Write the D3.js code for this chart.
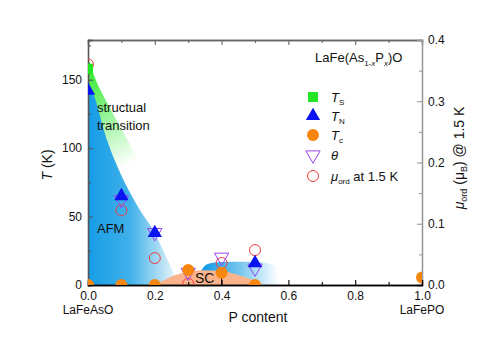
<!DOCTYPE html>
<html>
<head>
<meta charset="utf-8">
<script src="https://cdn.jsdelivr.net/npm/d3@7"></script>
<style>
  body { margin: 0; background: #fff; }
  svg text { font-family: "Liberation Sans", Arial, sans-serif; }
</style>
</head>
<body>
<div id="chart"></div>
<script>
// P content of each sample
var pContent = [0, 0.1, 0.2, 0.3, 0.4, 0.5, 1.0];

// transition temperatures (K)
var tsData = [[0, 158]];
var tnData = [[0, 142], [0.1, 65], [0.2, 38], [0.5, 16]];
var tcData = [[0, 0], [0.1, 0], [0.2, 0], [0.3, 11], [0.4, 9], [0.5, 0], [1.0, 5.5]];
var tcErr = [[0.4, 0, 9]];
var thetaData = [[0.1, 63], [0.2, 39], [0.3, 10], [0.4, 21], [0.5, 13]];
// ordered moment (mu_B) at 1.5 K -> right axis
var muData = [[0, 0.36], [0.1, 0.122], [0.2, 0.044], [0.3, 0.002], [0.4, 0.036], [0.5, 0.057]];

// phase boundaries
var structBoundary = [[0, 166], [0.02, 152], [0.06, 132], [0.1, 114], [0.14, 96], [0.19, 72], [0.24, 40], [0.28, 0]];
var afmBoundary = [[0, 146], [0.02, 137], [0.05, 111], [0.1, 80], [0.15, 57], [0.2, 38], [0.235, 20], [0.26, 7], [0.272, 0]];
var afm2Boundary = [[0.33, 6], [0.345, 14], [0.37, 16.8], [0.45, 17], [0.58, 17], [0.58, 0]];
var scBoundary = [[0.2, 0], [0.24, 5], [0.29, 9.3], [0.34, 10.8], [0.4, 10.2], [0.46, 6.5], [0.5, 3], [0.525, 0]];

var xTicks = [0, 0.2, 0.4, 0.6, 0.8, 1.0];
var xMinor = [0.1, 0.3, 0.5, 0.7, 0.9];
var yTicks = [0, 50, 100, 150];
var yMinor = [25, 75, 125, 175];
var yRTicks = [0, 0.1, 0.2, 0.3, 0.4];
var yRMinor = [0.05, 0.15, 0.25, 0.35];

var W = 491, H = 342;
var pL = 88, pR = 422, pT = 40, pB = 285;

var svg = d3.select("#chart").append("svg")
  .attr("width", W)
  .attr("height", H);

var x = d3.scaleLinear().domain([0, 1]).range([pL, pR]);
var y = d3.scaleLinear().domain([0, 179]).range([pB, pT]);
var yR = d3.scaleLinear().domain([0, 0.4]).range([pB, pT]);

var defs = svg.append("defs");
defs.append("clipPath").attr("id", "plot")
  .append("rect").attr("x", pL).attr("y", pT)
  .attr("width", pR - pL).attr("height", pB - pT);

function grad(id, x1, y1, x2, y2, stops) {
  var g = defs.append("linearGradient").attr("id", id)
    .attr("gradientUnits", "userSpaceOnUse")
    .attr("x1", x1).attr("y1", y1).attr("x2", x2).attr("y2", y2);
  stops.forEach(function(s) {
    g.append("stop").attr("offset", s[0]).attr("stop-color", s[1]);
  });
}
grad("gStruct", x(0), y(165), x(0.14), y(90), [[0, "#1fe61f"], [0.4, "#7af27a"], [1, "#ffffff"]]);
grad("gAfm", x(0), 0, x(0.28), 0, [[0, "#159ce6"], [0.45, "#40b1ea"], [0.8, "#b8e1f5"], [1, "#ffffff"]]);
grad("gAfm2", x(0.35), 0, x(0.57), 0, [[0, "#159ce6"], [0.5, "#7cc9ef"], [1, "#ffffff"]]);

var area = d3.line()
  .x(function(d) { return x(d[0]); })
  .y(function(d) { return y(d[1]); })
  .curve(d3.curveMonotoneX);

var regions = svg.append("g").attr("clip-path", "url(#plot)");

regions.append("path")
  .attr("d", area(structBoundary) + "L" + x(0) + "," + y(0) + "Z")
  .attr("fill", "url(#gStruct)");
regions.append("path")
  .attr("d", area(afmBoundary) + "L" + x(0) + "," + y(0) + "Z")
  .attr("fill", "url(#gAfm)");
regions.append("path")
  .attr("d", d3.line().x(function(d) { return x(d[0]); }).y(function(d) { return y(d[1]); })
    .curve(d3.curveBasis)(afm2Boundary) + "L" + x(0.33) + "," + y(0) + "Z")
  .attr("fill", "url(#gAfm2)");
regions.append("path")
  .attr("d", area(scBoundary) + "Z")
  .attr("fill", "#fab38a");

// axes
function axis(gen, tr, values, size, fmt, color) {
  var g = svg.append("g")
    .attr("transform", tr)
    .call(gen.tickValues(values).tickSize(size).tickPadding(4).tickFormat(fmt));
  g.select(".domain").attr("stroke", color).attr("stroke-width", 1.3);
  g.selectAll(".tick line").attr("stroke", color).attr("stroke-width", 1.1);
  g.selectAll("text").attr("font-size", 12).attr("fill", "#111");
  return g;
}
var none = function() { return ""; };
axis(d3.axisTop(x), "translate(0," + pT + ")", xTicks, -5, none, "#666");
axis(d3.axisTop(x), "translate(0," + pT + ")", xMinor, -3, none, "#666");
axis(d3.axisRight(yR), "translate(" + pR + ",0)", yRMinor, -3, none, "#999");
axis(d3.axisRight(yR), "translate(" + pR + ",0)", yRTicks, -5, d3.format(".1f"), "#999")
  .selectAll("text").attr("x", 6);
axis(d3.axisLeft(y), "translate(" + pL + ",0)", yMinor, -3, none, "#555");
axis(d3.axisLeft(y), "translate(" + pL + ",0)", yTicks, -5, d3.format("d"), "#555")
  .selectAll("text").attr("x", -6);
axis(d3.axisBottom(x), "translate(0," + pB + ")", xMinor, -3, none, "#000");
axis(d3.axisBottom(x), "translate(0," + pB + ")", xTicks, -5, d3.format(".1f"), "#000")
  .selectAll("text").attr("y", 6);

// data points
var pts = svg.append("g").attr("clip-path", "url(#plot)");
var tri = d3.symbol().type(d3.symbolTriangle).size(88);

pts.selectAll(".mu").data(muData).enter().append("circle")
  .attr("cx", function(d) { return x(d[0]); })
  .attr("cy", function(d) { return yR(d[1]); })
  .attr("r", 5.5)
  .attr("fill", "none").attr("stroke", "#f03c3c").attr("stroke-width", 1);

pts.selectAll(".theta").data(thetaData).enter().append("path")
  .attr("d", tri)
  .attr("transform", function(d) { return "translate(" + x(d[0]) + "," + (y(d[1]) + 1) + ") rotate(180)"; })
  .attr("fill", "none").attr("stroke", "#9b42f5").attr("stroke-width", 1);

pts.selectAll(".tn").data(tnData).enter().append("path")
  .attr("d", tri)
  .attr("transform", function(d) { return "translate(" + x(d[0]) + "," + y(d[1]) + ")"; })
  .attr("fill", "#0a14f0");

pts.selectAll(".err").data(tcErr).enter().append("line")
  .attr("x1", function(d) { return x(d[0]); })
  .attr("x2", function(d) { return x(d[0]); })
  .attr("y1", function(d) { return y(d[1]); })
  .attr("y2", function(d) { return y(d[2]); })
  .attr("stroke", "#000");

pts.selectAll(".tc").data(tcData).enter().append("circle")
  .attr("cx", function(d) { return x(d[0]); })
  .attr("cy", function(d) { return y(d[1]); })
  .attr("r", 6)
  .attr("fill", "#f7860f");

pts.selectAll(".ts").data(tsData).enter().append("rect")
  .attr("x", function(d) { return x(d[0]) - 5; })
  .attr("y", function(d) { return y(d[1]) - 5; })
  .attr("width", 10).attr("height", 10)
  .attr("fill", "#22e622");

// region labels
function label(tx, ty, txt, size) {
  return svg.append("text").attr("x", tx).attr("y", ty)
    .attr("font-size", size || 13).attr("fill", "#111").text(txt);
}
label(97, 112, "structual");
label(97, 130, "transition");
label(97, 233, "AFM");
label(195, 283, "SC", 14);

// compound name
var title = svg.append("text").attr("x", 315).attr("y", 62)
  .attr("font-size", 13).attr("fill", "#111");
title.append("tspan").text("LaFe(As");
title.append("tspan").attr("font-size", 8).attr("dy", 4).text("1-");
title.append("tspan").attr("font-size", 8).attr("font-style", "italic").text("x");
title.append("tspan").attr("dy", -4).text("P");
title.append("tspan").attr("font-size", 8).attr("font-style", "italic").attr("dy", 4).text("x");
title.append("tspan").attr("dy", -4).text(")O");

// legend
var lg = svg.append("g");
var lx = 313, tx = 331;
var rows = [97, 116, 135, 155, 176];
lg.append("rect").attr("x", lx - 5).attr("y", rows[0] - 5).attr("width", 10).attr("height", 10).attr("fill", "#22e622");
lg.append("path").attr("d", tri).attr("transform", "translate(" + lx + "," + rows[1] + ")").attr("fill", "#0a14f0");
lg.append("circle").attr("cx", lx).attr("cy", rows[2]).attr("r", 6).attr("fill", "#f7860f");
lg.append("path").attr("d", tri).attr("transform", "translate(" + lx + "," + rows[3] + ") rotate(180)")
  .attr("fill", "none").attr("stroke", "#9b42f5");
lg.append("circle").attr("cx", lx).attr("cy", rows[4]).attr("r", 5.5)
  .attr("fill", "none").attr("stroke", "#f03c3c");

var legTexts = [["T", "S", ""], ["T", "N", ""], ["T", "c", ""], ["\u03b8", "", ""], ["\u03bc", "ord", " at 1.5 K"]];
legTexts.forEach(function(t, i) {
  var el = lg.append("text").attr("x", tx).attr("y", rows[i] + 5).attr("font-size", 13).attr("fill", "#111");
  el.append("tspan").attr("font-style", "italic").text(t[0]);
  if (t[1]) el.append("tspan").attr("font-size", 8).attr("dy", 3).text(t[1]);
  if (t[2]) el.append("tspan").attr("dy", -3).text(t[2]);
});

// axis titles
svg.append("text").attr("x", (pL + pR) / 2 + 3).attr("y", 322)
  .attr("text-anchor", "middle").attr("font-size", 14).attr("fill", "#111").text("P content");
svg.append("text").attr("x", 88).attr("y", 314)
  .attr("text-anchor", "middle").attr("font-size", 12).attr("fill", "#111").text("LaFeAsO");
svg.append("text").attr("x", 422).attr("y", 314)
  .attr("text-anchor", "middle").attr("font-size", 12).attr("fill", "#111").text("LaFePO");

var yl = svg.append("text").attr("transform", "translate(52,165) rotate(-90)")
  .attr("text-anchor", "middle").attr("font-size", 14).attr("fill", "#111");
yl.append("tspan").attr("font-style", "italic").text("T");
yl.append("tspan").text(" (K)");

var yr = svg.append("text").attr("transform", "translate(464,158) rotate(-90)")
  .attr("text-anchor", "middle").attr("font-size", 14).attr("fill", "#111");
yr.append("tspan").attr("font-style", "italic").text("\u03bc");
yr.append("tspan").attr("font-size", 9).attr("dy", 3).text("ord");
yr.append("tspan").attr("dy", -3).text(" (\u03bc");
yr.append("tspan").attr("font-size", 9).attr("dy", 3).text("B");
yr.append("tspan").attr("dy", -3).text(") @ 1.5 K");
</script>
</body>
</html>
